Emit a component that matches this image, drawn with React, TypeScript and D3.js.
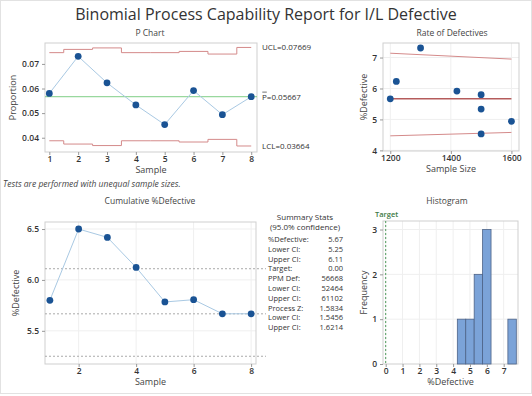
import React, { useEffect, useRef } from 'react';
import * as d3 from 'd3';

// données
const samples = [1, 2, 3, 4, 5, 6, 7, 8];
const sampleSizes = [1500, 1300, 1220, 1500, 1500, 1420, 1600, 1200];
const defectives = [87, 95, 76, 80, 68, 84, 79, 68];
const pBar = 0.05667;
const uclValues = [0.07458, 0.0759, 0.0765, 0.07458, 0.07458, 0.07508, 0.07401, 0.07669];
const lclValues = [0.03876, 0.03743, 0.03681, 0.03876, 0.03876, 0.03826, 0.03933, 0.03664];
const limitValues = [0.07669, 0.05667, 0.03664];
const limitNames = ['UCL', 'P', 'LCL'];

const rateEnds = [1200, 1600];
const rateUpper = [7.14, 6.95];
const rateLower = [4.47, 4.58];

const ciLines = [6.11, 5.667, 5.25];

const statLabels = ['%Defective:', 'Lower CI:', 'Upper CI:', 'Target:', 'PPM Def:', 'Lower CI:', 'Upper CI:', 'Process Z:', 'Lower CI:', 'Upper CI:'];
const statValues = ['5.67', '5.25', '6.11', '0.00', '56668', '52464', '61102', '1.5834', '1.5456', '1.6214'];

const histThresholds = [4.25, 4.75, 5.25, 5.75, 6.25, 6.75, 7.25, 7.75];

const W = 532;
const H = 396;
const FONT = 'Open Sans, sans-serif';
const PT = '#1a5394';
const LINE = '#a9c9e3';
const RED = '#d48a8a';

const App = () => {
  const ref = useRef(null);

  useEffect(() => {
    const svg = d3.select(ref.current);
    svg.selectAll('*').remove();
    svg.attr('font-family', FONT);

    svg.append('rect').attr('x', 0.5).attr('y', 0.5).attr('width', W - 1).attr('height', H - 3)
      .attr('fill', '#fff').attr('stroke', '#e2e2e2');

    svg.append('text').attr('x', 266).attr('y', 20).attr('text-anchor', 'middle')
      .attr('font-size', 16).attr('fill', '#333').text('Binomial Process Capability Report for I/L Defective');

    const pct = defectives.map((d, i) => (d / sampleSizes[i]) * 100);
    const prop = pct.map(v => v / 100);
    const cum = d3.cumsum(defectives).map((d, i) => (d / d3.sum(sampleSizes.slice(0, i + 1))) * 100);

    const title = (x, y, t) => svg.append('text').attr('x', x).attr('y', y).attr('text-anchor', 'middle')
      .attr('font-size', 8.5).attr('fill', '#444').text(t);

    const axisStyle = g => {
      g.select('.domain').remove();
      g.selectAll('line').attr('stroke', '#999');
      g.selectAll('text').attr('font-family', FONT).attr('font-size', 8.5).attr('font-weight', 600).attr('fill', '#333');
    };

    const frame = (x, y) => {
      const [x0, x1] = x.range();
      const [y0, y1] = y.range();
      svg.append('rect').attr('x', x0).attr('y', y1).attr('width', x1 - x0).attr('height', y0 - y1)
        .attr('fill', 'none').attr('stroke', '#cfcfcf');
    };

    const grid = (x, y, xt, yt) => {
      const [x0, x1] = x.range();
      const [y0, y1] = y.range();
      svg.append('g').selectAll('line').data(xt).enter().append('line')
        .attr('x1', d => x(d)).attr('x2', d => x(d)).attr('y1', y0).attr('y2', y1).attr('stroke', '#efefef');
      svg.append('g').selectAll('line').data(yt).enter().append('line')
        .attr('x1', x0).attr('x2', x1).attr('y1', d => y(d)).attr('y2', d => y(d)).attr('stroke', '#efefef');
    };

    const axes = (x, y, xt, yt, yfmt, xlab, ylab, ylabX) => {
      const [x0, x1] = x.range();
      const [y0, y1] = y.range();
      svg.append('g').attr('transform', `translate(0,${y0})`)
        .call(d3.axisBottom(x).tickValues(xt).tickSize(3).tickPadding(1).tickFormat(d3.format('d'))).call(axisStyle);
      svg.append('g').attr('transform', `translate(${x0},0)`)
        .call(d3.axisLeft(y).tickValues(yt).tickSize(3).tickPadding(3).tickFormat(yfmt)).call(axisStyle);
      svg.append('text').attr('x', (x0 + x1) / 2).attr('y', y0 + 21).attr('text-anchor', 'middle')
        .attr('font-size', 9).attr('fill', '#444').text(xlab);
      svg.append('text').attr('transform', `translate(${ylabX},${(y0 + y1) / 2}) rotate(-90)`)
        .attr('text-anchor', 'middle').attr('font-size', 9).attr('fill', '#444').text(ylab);
    };

    const dots = (x, y, xs, ys, r) => {
      svg.append('g').selectAll('circle').data(xs).enter().append('circle')
        .attr('cx', d => x(d)).attr('cy', (d, i) => y(ys[i])).attr('r', r).attr('fill', PT);
    };

    // P chart
    const px = d3.scaleLinear().domain([0.85, 8.2]).range([45, 257]);
    const py = d3.scaleLinear().domain([0.0342, 0.0785]).range([152, 43]);
    title(150, 36, 'P Chart');
    frame(px, py);
    const step = d3.line().x(d => px(d[0])).y(d => py(d[1])).curve(d3.curveStep);
    svg.append('path').attr('d', step(samples.map((s, i) => [s, uclValues[i]]))).attr('fill', 'none').attr('stroke', RED);
    svg.append('path').attr('d', step(samples.map((s, i) => [s, lclValues[i]]))).attr('fill', 'none').attr('stroke', RED);
    svg.append('line').attr('x1', px(0.85)).attr('x2', px(8.2)).attr('y1', py(pBar)).attr('y2', py(pBar)).attr('stroke', '#7fcf86');
    svg.append('path').attr('d', d3.line().x(d => px(d[0])).y(d => py(d[1]))(samples.map((s, i) => [s, prop[i]])))
      .attr('fill', 'none').attr('stroke', LINE);
    dots(px, py, samples, prop, 3.4);
    axes(px, py, samples, [0.04, 0.05, 0.06, 0.07], d3.format('.2f'), 'Sample', 'Proportion', 16);
    limitValues.forEach((v, i) => {
      svg.append('text').attr('x', 262).attr('y', py(v) + 3).attr('font-size', 8).attr('fill', '#333')
        .text(limitNames[i] + '=' + d3.format('.5f')(v));
    });
    // barre au-dessus du P
    svg.append('line').attr('x1', 262.3).attr('x2', 266.8).attr('y1', py(pBar) - 4.6).attr('y2', py(pBar) - 4.6)
      .attr('stroke', '#333').attr('stroke-width', 0.7);
    svg.append('text').attr('x', 3).attr('y', 187).attr('font-size', 8.5).attr('font-style', 'italic').attr('fill', '#444')
      .text('Tests are performed with unequal sample sizes.');

    // Rate of Defectives
    const rx = d3.scaleLinear().domain([1176, 1625]).range([383, 519]);
    const ry = d3.scaleLinear().domain([3.98, 7.47]).range([151, 43]);
    title(452, 36, 'Rate of Defectives');
    grid(rx, ry, [1200, 1400, 1600], [4, 5, 6, 7]);
    frame(rx, ry);
    const rl = d3.line().x(d => rx(d[0])).y(d => ry(d[1]));
    svg.append('path').attr('d', rl(rateEnds.map((s, i) => [s, rateUpper[i]]))).attr('fill', 'none').attr('stroke', RED);
    svg.append('path').attr('d', rl(rateEnds.map((s, i) => [s, rateLower[i]]))).attr('fill', 'none').attr('stroke', RED);
    svg.append('path').attr('d', rl(rateEnds.map(s => [s, pBar * 100]))).attr('fill', 'none').attr('stroke', '#b55c5c').attr('stroke-width', 1.5);
    dots(rx, ry, sampleSizes, pct, 3.4);
    axes(rx, ry, [1200, 1400, 1600], [4, 5, 6, 7], d3.format('d'), 'Sample Size', '%Defective', 367);

    // Cumulative %Defective
    const cx = d3.scaleLinear().domain([0.83, 8.17]).range([45, 256]);
    const cy = d3.scaleLinear().domain([5.174, 6.569]).range([364, 222]);
    title(150, 204, 'Cumulative %Defective');
    grid(cx, cy, [2, 4, 6, 8], [5.5, 6.0, 6.5]);
    frame(cx, cy);
    svg.append('g').selectAll('line').data(ciLines).enter().append('line')
      .attr('x1', cx(0.83)).attr('x2', 266).attr('y1', d => cy(d)).attr('y2', d => cy(d))
      .attr('stroke', '#aaa').attr('stroke-dasharray', '2,2');
    svg.append('path').attr('d', d3.line().x(d => cx(d[0])).y(d => cy(d[1]))(samples.map((s, i) => [s, cum[i]])))
      .attr('fill', 'none').attr('stroke', LINE);
    dots(cx, cy, samples, cum, 3.4);
    axes(cx, cy, [2, 4, 6, 8], [5.5, 6.0, 6.5], d3.format('.1f'), 'Sample', '%Defective', 19);

    // Summary stats
    svg.append('text').attr('x', 305).attr('y', 220).attr('text-anchor', 'middle').attr('font-size', 8).attr('fill', '#333').text('Summary Stats');
    svg.append('text').attr('x', 305).attr('y', 230).attr('text-anchor', 'middle').attr('font-size', 8).attr('fill', '#333').text('(95.0% confidence)');
    statLabels.forEach((l, i) => {
      svg.append('text').attr('x', 268).attr('y', 242 + i * 9.8).attr('font-size', 7.5).attr('fill', '#333').text(l);
      svg.append('text').attr('x', 343).attr('y', 242 + i * 9.8).attr('text-anchor', 'end').attr('font-size', 7.5).attr('fill', '#333').text(statValues[i]);
    });

    // Histogram
    const hx = d3.scaleLinear().domain([-0.16, 7.85]).range([383, 518]);
    const hy = d3.scaleLinear().domain([0, 3.19]).range([364, 221]);
    title(447, 204, 'Histogram');
    grid(hx, hy, d3.range(0, 8), [1, 2, 3]);
    frame(hx, hy);
    const bins = d3.bin().domain([histThresholds[0], histThresholds[histThresholds.length - 1]]).thresholds(histThresholds)(pct);
    svg.append('g').selectAll('rect').data(bins.filter(b => b.length > 0)).enter().append('rect')
      .attr('x', d => hx(d.x0)).attr('width', d => hx(d.x1) - hx(d.x0))
      .attr('y', d => hy(d.length)).attr('height', d => hy(0) - hy(d.length))
      .attr('fill', '#7ba3d8').attr('stroke', '#4d6387').attr('stroke-width', 0.8);
    svg.append('line').attr('x1', hx(0)).attr('x2', hx(0)).attr('y1', 221).attr('y2', 364)
      .attr('stroke', '#4f9a5c').attr('stroke-dasharray', '2,2');
    svg.append('text').attr('x', 375).attr('y', 217).attr('font-size', 7.5).attr('font-weight', 600).attr('fill', '#3d7a45').text('Target');
    axes(hx, hy, d3.range(0, 8), [0, 1, 2, 3], d3.format('d'), '%Defective', 'Frequency', 367);
  }, []);

  return <svg ref={ref} width={W} height={H} style={{ position: 'absolute', left: 0, top: 0 }} />;
};

export default App;
